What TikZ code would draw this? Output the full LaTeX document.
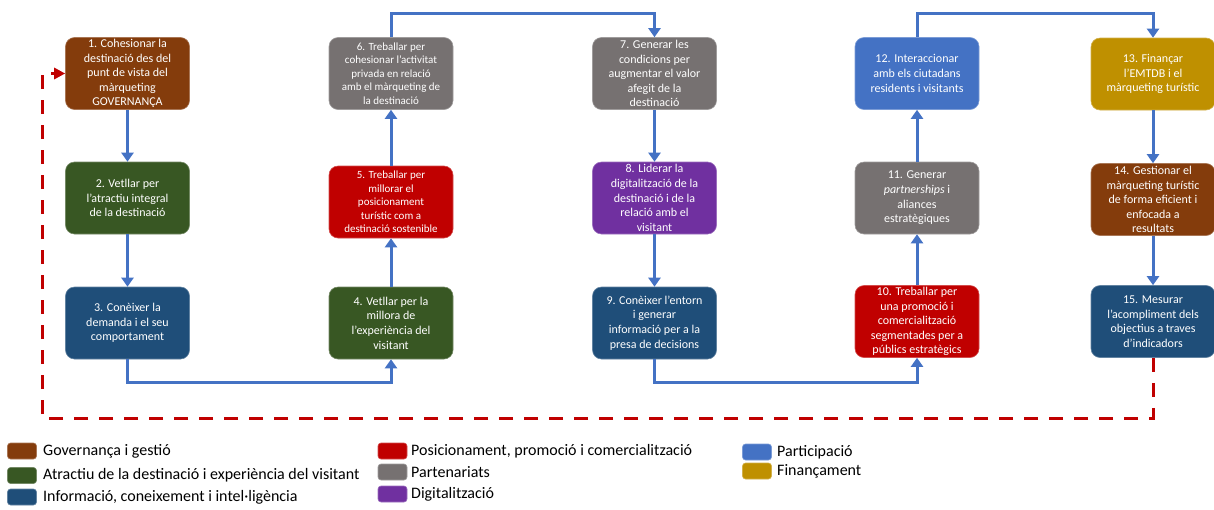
\documentclass[tikz,border=0pt]{standalone}
\usepackage{fontspec}
\setmainfont{Carlito}
\usetikzlibrary{arrows.meta}

% category colours
\definecolor{cgov}{HTML}{843C0C}
\definecolor{cattr}{HTML}{385723}
\definecolor{cinfo}{HTML}{1F4E79}
\definecolor{cpos}{HTML}{C00000}
\definecolor{cpart}{HTML}{767171}
\definecolor{cdig}{HTML}{7030A0}
\definecolor{cparti}{HTML}{4472C4}
\definecolor{cfin}{HTML}{BF9000}
\definecolor{cloop}{HTML}{C00000}

\tikzset{
  stepbox/.style={rectangle, rounded corners=9pt, fill=#1, draw=#1!70!white,
    line width=0.6pt, minimum width=124pt, minimum height=72pt, inner sep=0.5pt,
    text=white, align=center, font=\fontsize{12}{14.6}\selectfont},
  smalltext/.style={font=\fontsize{11}{13.4}\selectfont},
  flow/.style={draw=cparti, line width=3pt,
    -{Triangle[length=9pt,width=12pt]}},
  loopback/.style={draw=cloop, line width=3pt, dash pattern=on 14pt off 11pt,
    -{Triangle[length=11pt,width=11pt]}},
  keybox/.style={rectangle, rounded corners=3pt, fill=#1, draw=#1!70!white,
    line width=0.6pt, minimum width=29pt, minimum height=16pt, inner sep=0pt},
  keytext/.style={anchor=west, inner sep=0pt, font=\fontsize{16}{18}\selectfont}
}

\begin{document}
\begin{tikzpicture}[x=1pt, y=-1pt]
\useasboundingbox (0,0) rectangle (1214,509);

% rails for the elbow connectors
\coordinate (toprail) at (0,13);
\coordinate (lowrail) at (0,382);
\coordinate (redrail) at (0,418);
\coordinate (redleft) at (42,0);

% column 1
\node[stepbox=cgov] (b1) at (127.5,73.5)
  {1. Cohesionar la\\destinació des del\\punt de vista del\\màrqueting\\GOVERNANÇA};
\node[stepbox=cattr] (b2) at (127.5,198)
  {2. Vetllar per\\l’atractiu integral\\de la destinació};
\node[stepbox=cinfo] (b3) at (127.5,323)
  {3. Conèixer la\\demanda i el seu\\comportament};

% column 2
\node[stepbox=cattr] (b4) at (391,323)
  {4. Vetllar per la\\millora de\\l’experiència del\\visitant};
\node[stepbox=cpos, smalltext] (b5) at (391,202)
  {5. Treballar per\\millorar el\\posicionament\\turístic com a\\destinació sostenible};
\node[stepbox=cpart, smalltext] (b6) at (391,73.5)
  {6. Treballar per\\cohesionar l’activitat\\privada en relació\\amb el màrqueting de\\la destinació};

% column 3
\node[stepbox=cpart] (b7) at (654.5,73.5)
  {7. Generar les\\condicions per\\augmentar el valor\\afegit de la\\destinació};
\node[stepbox=cdig] (b8) at (654.5,198)
  {8. Liderar la\\digitalització de la\\destinació i de la\\relació amb el\\visitant};
\node[stepbox=cinfo] (b9) at (654.5,323)
  {9. Conèixer l’entorn\\i generar\\informació per a la\\presa de decisions};

% column 4
\node[stepbox=cpos] (b10) at (917,321.5)
  {10. Treballar per\\una promoció i\\comercialització\\segmentades per a\\públics estratègics};
\node[stepbox=cpart] (b11) at (917,198)
  {11. Generar\\\textit{partnerships} i\\aliances\\estratègiques};
\node[stepbox=cparti] (b12) at (917,73.5)
  {12. Interaccionar\\amb els ciutadans\\residents i visitants};

% column 5
\node[stepbox=cfin] (b13) at (1153,74)
  {13. Finançar\\l’EMTDB i el\\màrqueting turístic};
\node[stepbox=cgov] (b14) at (1153,199.5)
  {14. Gestionar el\\màrqueting turístic\\de forma eficient i\\enfocada a\\resultats};
\node[stepbox=cinfo] (b15) at (1153,321.5)
  {15. Mesurar\\l’acompliment dels\\objectius a traves\\d’indicadors};

% sequence of steps
\draw[flow] (b1) -- (b2);
\draw[flow] (b2) -- (b3);
\draw[flow] (b3.south) -- (b3.south |- lowrail) -| (b4.south);
\draw[flow] (b4) -- (b5);
\draw[flow] (b5) -- (b6);
\draw[flow] (b6.north) -- (b6.north |- toprail) -| (b7.north);
\draw[flow] (b7) -- (b8);
\draw[flow] (b8) -- (b9);
\draw[flow] (b9.south) -- (b9.south |- lowrail) -| (b10.south);
\draw[flow] (b10) -- (b11);
\draw[flow] (b11) -- (b12);
\draw[flow] (b12.north) -- (b12.north |- toprail) -| (b13.north);
\draw[flow] (b13) -- (b14);
\draw[flow] (b14) -- (b15);

% feedback loop back to the start
\draw[loopback] (b15.south) -- (b15.south |- redrail) -| (redleft |- b1.west) -- (b1.west);

% legend
\node[keybox=cgov]  (k1) at (22,451) {};
\node[keytext] (t1) at (43,451) {Governança i gestió};
\node[keybox=cattr] (k2) at (22,475.5) {};
\node[keytext] (t2) at (43,475) {Atractiu de la destinació i experiència del visitant};
\node[keybox=cinfo] (k3) at (22,497) {};
\node[keytext] (t3) at (43,497) {Informació, coneixement i intel·ligència};

\node[keybox=cpos]  (k4) at (392.5,451) {};
\node[keytext] (t4) at (411,451) {Posicionament, promoció i comercialització};
\node[keybox=cpart] (k5) at (392.5,472) {};
\node[keytext] (t5) at (411,472) {Partenariats};
\node[keybox=cdig]  (k6) at (392.5,494) {};
\node[keytext] (t6) at (411,494) {Digitalització};

\node[keybox=cparti] (k7) at (757,452) {};
\node[keytext] (t7) at (777,452) {Participació};
\node[keybox=cfin]   (k8) at (757,471) {};
\node[keytext] (t8) at (777,471) {Finançament};
\end{tikzpicture}
\end{document}
